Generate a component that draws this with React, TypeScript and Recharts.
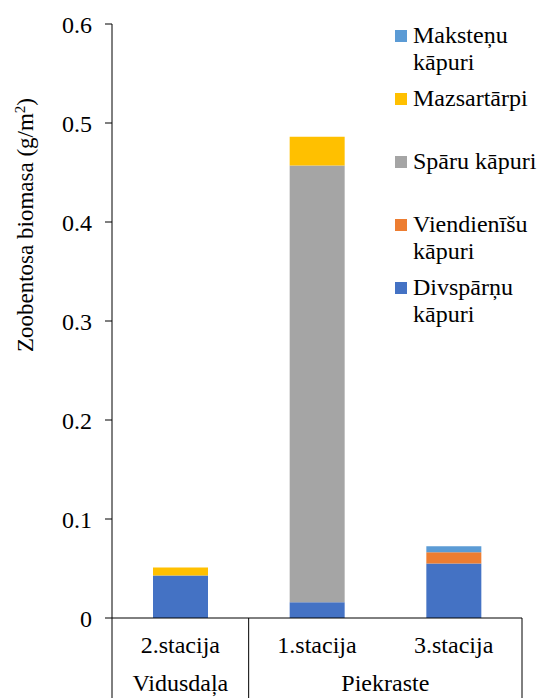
import { BarChart, Bar, XAxis, YAxis, Legend } from 'recharts'

const stations = ['2.stacija', '1.stacija', '3.stacija']
const regions = ['Vidusdaļa', 'Piekraste', 'Piekraste']

const divsparnu = [0.043, 0.016, 0.055]
const viendienisu = [0, 0, 0.0115]
const sparu = [0, 0.441, 0]
const mazsartarpi = [0.008, 0.029, 0]
const makstenu = [0, 0, 0.006]

const yTicks = [0, 0.1, 0.2, 0.3, 0.4, 0.5, 0.6]

const series = [
  { key: 'divsparnu', name: 'Divspārņu kāpuri', color: '#4472C4', values: divsparnu },
  { key: 'viendienisu', name: 'Viendienīšu kāpuri', color: '#ED7D31', values: viendienisu },
  { key: 'sparu', name: 'Spāru kāpuri', color: '#A5A5A5', values: sparu },
  { key: 'mazsartarpi', name: 'Mazsartārpi', color: '#FFC000', values: mazsartarpi },
  { key: 'makstenu', name: 'Maksteņu kāpuri', color: '#5B9BD5', values: makstenu },
]

const data = stations.map((station, i) => {
  const row: Record<string, string | number> = { station, region: regions[i] }
  series.forEach((s) => { row[s.key] = s.values[i] })
  return row
})

const W = 538
const H = 698
const FONT = 'Liberation Serif, Tinos, DejaVu Serif, serif'
const margin = { top: 24, right: 16, bottom: 0, left: 32 }
const Y_AXIS_W = 80
const X_AXIS_H = 80
const band = (W - margin.left - margin.right - Y_AXIS_W) / stations.length

const StationTick = (props: any) => {
  const { x, y, index, payload } = props
  const region = regions[index]
  const isStart = index === 0 || regions[index - 1] !== region
  const isLast = index === stations.length - 1
  let groupSize = 0
  if (isStart) {
    for (let j = index; j < regions.length && regions[j] === region; j++) groupSize++
  }
  return (
    <g>
      {isStart && <line x1={x - band / 2} x2={x - band / 2} y1={y} y2={y + X_AXIS_H} stroke="#000" />}
      {isLast && <line x1={x + band / 2} x2={x + band / 2} y1={y} y2={y + X_AXIS_H} stroke="#000" />}
      <text x={x} y={y + 35} textAnchor="middle" style={{ fontSize: 24, fontFamily: FONT }} fill="#000">
        {payload.value}
      </text>
      {isStart && (
        <text x={x + ((groupSize - 1) * band) / 2} y={y + 73} textAnchor="middle" style={{ fontSize: 24, fontFamily: FONT }} fill="#000">
          {region}
        </text>
      )}
    </g>
  )
}

const YLabel = () => (
  <text x={33} y={225} transform="rotate(-90 33 225)" textAnchor="middle" style={{ fontSize: 23, fontFamily: FONT }} fill="#000">
    Zoobentosa biomasa (g/m<tspan baselineShift="super" style={{ fontSize: 15 }}>2</tspan>)
  </text>
)

const renderLegend = () => (
  <div style={{ position: 'relative', width: 146, height: 340, fontFamily: FONT, fontSize: 24, lineHeight: '27px', color: '#000' }}>
    {[...series].reverse().map((s, i) => (
      <div key={s.key} style={{ position: 'absolute', left: 0, top: 21.5 + i * 63.2, display: 'flex', alignItems: 'flex-start' }}>
        <span style={{ display: 'inline-block', flex: 'none', width: 12, height: 12, background: s.color, marginTop: 8, marginLeft: 3, marginRight: 6 }} />
        <span style={{ width: 128 }}>{s.name}</span>
      </div>
    ))}
  </div>
)

export default function App() {
  return (
    <div style={{ position: 'absolute', left: 0, top: 0, width: W, height: H, background: '#fff', fontFamily: FONT }}>
      <BarChart width={W} height={H} data={data} margin={margin} style={{ fontFamily: FONT }}>
        <XAxis
          dataKey="station"
          interval={0}
          height={X_AXIS_H}
          tickLine={false}
          tickSize={0}
          tickMargin={0}
          axisLine={{ stroke: '#000' }}
          tick={<StationTick />}
        />
        <YAxis
          width={Y_AXIS_W}
          domain={[0, 0.6]}
          ticks={yTicks}
          interval={0}
          tickSize={7}
          tickMargin={13}
          axisLine={{ stroke: '#000' }}
          tickLine={{ stroke: '#000' }}
          tick={{ fill: '#000', fontSize: 24, fontFamily: FONT, style: { fontFamily: FONT } }}
          label={<YLabel />}
        />
        <Legend
          layout="vertical"
          align="center"
          verticalAlign="middle"
          content={renderLegend}
          wrapperStyle={{ left: 392, top: 0, width: 146, height: 340 }}
        />
        {series.map((s) => (
          <Bar key={s.key} dataKey={s.key} name={s.name} stackId="a" fill={s.color} barSize={55} isAnimationActive={false} />
        ))}
      </BarChart>
    </div>
  )
}
